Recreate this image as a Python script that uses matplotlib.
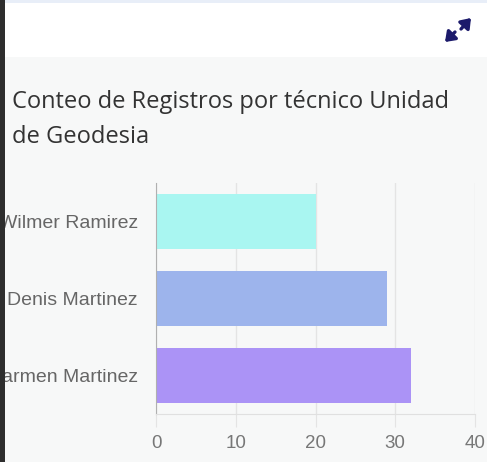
import numpy as np
import matplotlib.pyplot as plt
from matplotlib.patches import Rectangle

# data
tecnicos = ["Wilmer Ramirez", "Denis Martinez", "Carmen Martinez"]
registros = [20, 29, 32]
colores = ["#a9f6f1", "#9db4ec", "#ab93f6"]
x_ticks = [0, 10, 20, 30, 40]
titulo = "Conteo de Registros por técnico Unidad\nde Geodesia"

W, H = 487, 462
fig = plt.figure(figsize=(W / 100, H / 100), dpi=100)
fig.patch.set_facecolor("#f7f8f8")

# page frame: white header strip, light blue top edge, dark left border
fig.patches.append(Rectangle((0, 1 - 57 / H), 1, 57 / H, transform=fig.transFigure,
                             facecolor="white", edgecolor="none", zorder=0))
fig.patches.append(Rectangle((0, 1 - 3 / H), 1, 3 / H, transform=fig.transFigure,
                             facecolor="#e8eef8", edgecolor="none", zorder=1))
fig.patches.append(Rectangle((0, 0), 5 / W, 1, transform=fig.transFigure,
                             facecolor="#2e2e2e", edgecolor="none", zorder=5))

# expand icon (two arrows pointing apart)
icon_col = "#1c1a6b"
arrow = dict(arrowstyle="-|>,head_length=0.55,head_width=0.4", color=icon_col, lw=2.4,
             shrinkA=0, shrinkB=0)
fig.add_artist(plt.Annotation("", xy=(471, H - 18), xytext=(461, H - 29),
                              xycoords="figure pixels", arrowprops=arrow))
fig.add_artist(plt.Annotation("", xy=(445, H - 42), xytext=(455, H - 32),
                              xycoords="figure pixels", arrowprops=arrow))

fig.text(12 / W, 1 - 90 / H, titulo, fontsize=17, color="#333333",
         family="Open Sans", va="top", ha="left", linespacing=1.62)

ax = fig.add_axes([156 / W, 1 - 414 / H, (475 - 156) / W, (414 - 183) / H])
ax.set_facecolor("#f7f8f8")

y = np.arange(len(tecnicos))
ax.barh(y, registros, height=0.72, color=colores, zorder=2)
ax.set_yticks(y)
ax.set_yticklabels(tecnicos)
ax.set_ylim(len(tecnicos) - 0.5, -0.5)
ax.set_xlim(0, 40)
ax.set_xticks(x_ticks)

ax.grid(axis="x", color="#e4e4e4", linewidth=1, zorder=0)
for s in ["top", "right"]:
    ax.spines[s].set_visible(False)
ax.spines["left"].set_color("#b0b0b0")
ax.spines["bottom"].set_color("#e0e0e0")

ax.tick_params(axis="y", length=0, pad=13, labelsize=14, labelcolor="#666666")
ax.tick_params(axis="x", length=9, color="#e4e4e4", pad=6, labelsize=13.5, labelcolor="#777777")
for lab in ax.get_yticklabels() + ax.get_xticklabels():
    lab.set_family("Liberation Sans")

fig.savefig("out.png", dpi=100, facecolor=fig.get_facecolor())
